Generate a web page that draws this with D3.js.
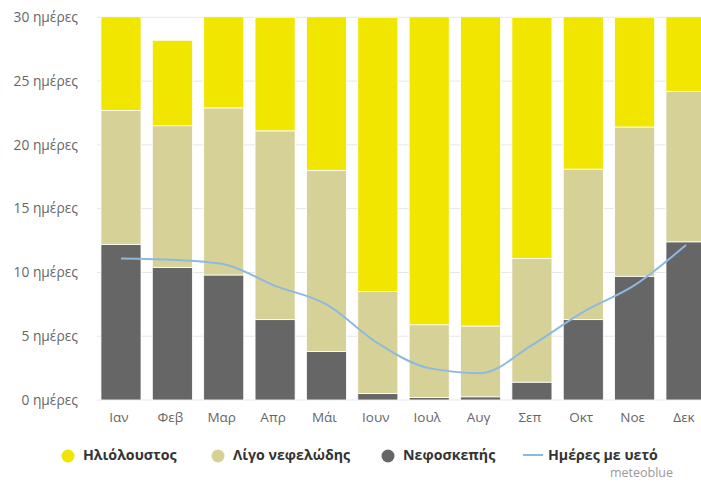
<!DOCTYPE html>
<html>
<head>
<meta charset="utf-8">
<script src="https://cdn.jsdelivr.net/npm/d3@7/dist/d3.min.js"></script>
<style>
  html, body { margin: 0; padding: 0; background: #fff; }
  svg { display: block; font-family: "Open Sans", "DejaVu Sans", sans-serif; }
</style>
</head>
<body>
<svg id="chart" width="701" height="482"></svg>
<script>
const months = ["Ιαν","Φεβ","Μαρ","Απρ","Μάι","Ιουν","Ιουλ","Αυγ","Σεπ","Οκτ","Νοε","Δεκ"];
const sunny    = [8.3, 6.7, 8.1, 8.9, 13.0, 21.5, 25.1, 25.2, 18.9, 12.9, 8.6, 6.8];
const partly   = [10.5, 11.1, 13.1, 14.8, 14.2, 8.0, 5.7, 5.55, 9.7, 11.8, 11.7, 11.8];
const overcast = [12.2, 10.4, 9.8, 6.3, 3.8, 0.5, 0.2, 0.25, 1.4, 6.3, 9.7, 12.4];
const rainDays = [11.1, 11.0, 10.65, 8.95, 7.5, 4.45, 2.5, 2.1, 4.3, 6.9, 9.0, 12.15];
const yTicks = [0, 5, 10, 15, 20, 25, 30];
const tickSuffix = " ημέρες";
const legendLabels = ["Ηλιόλουστος", "Λίγο νεφελώδης", "Νεφοσκεπής", "Ημέρες με υετό"];
const credit = "meteoblue";

const colors = { sunny: "#f1e600", partly: "#d6d297", overcast: "#666666", rain: "#8db9df" };

const svg = d3.select("#chart");
const x = d3.scaleBand().domain(months).range([95.3, 711.7]).paddingInner(0.22).paddingOuter(0.11);
const y = d3.scaleLinear().domain([0, 30]).range([400, 17.3]);

// grid
svg.append("g").selectAll("line").data(yTicks).join("line")
  .attr("x1", 97).attr("x2", 701)
  .attr("y1", d => y(d)).attr("y2", d => y(d))
  .attr("stroke", "#e6e6e6").attr("stroke-width", 1);

// y labels
svg.append("g").selectAll("text").data(yTicks).join("text")
  .attr("x", 78).attr("y", d => y(d)).attr("dy", "0.35em")
  .attr("text-anchor", "end").attr("fill", "#666").attr("font-size", 13.8)
  .text(d => d + tickSuffix);

// clip
svg.append("defs").append("clipPath").attr("id", "plotclip")
  .append("rect").attr("x", 90).attr("y", y(30)).attr("width", 640).attr("height", y(0) - y(30) + 1);

const table = months.map((m, i) => ({ month: m, overcast: overcast[i], partly: partly[i], sunny: sunny[i] }));
const keys = ["overcast", "partly", "sunny"];
const stacked = d3.stack().keys(keys)(table);

const bars = svg.append("g").attr("clip-path", "url(#plotclip)");
bars.selectAll("g").data(stacked).join("g")
  .attr("fill", d => colors[d.key])
  .selectAll("rect").data(d => d).join("rect")
  .attr("x", d => x(d.data.month))
  .attr("width", x.bandwidth())
  .attr("y", d => y(d[1]))
  .attr("height", d => y(d[0]) - y(d[1]))
  .attr("stroke", "#fff").attr("stroke-width", 0.8);

// rain line
const line = d3.line()
  .x((d, i) => x(months[i]) + x.bandwidth() / 2)
  .y(d => y(d))
  .curve(d3.curveMonotoneX);
svg.append("path").datum(rainDays)
  .attr("d", line).attr("fill", "none")
  .attr("stroke", colors.rain).attr("stroke-width", 2);

// x labels
svg.append("g").selectAll("text").data(months).join("text")
  .attr("x", d => x(d) + x.bandwidth() / 2 - 2).attr("y", 422)
  .attr("text-anchor", "middle").attr("fill", "#666").attr("font-size", 13.5)
  .text(d => d);

// legend
const lg = svg.append("g").attr("font-size", 14.2).attr("font-weight", "bold").attr("fill", "#333");
const legendX = [68, 218, 388, 523];
const legendColors = [colors.sunny, colors.partly, colors.overcast, colors.rain];
const ly = 455;
legendLabels.forEach((lab, i) => {
  const g = lg.append("g");
  if (i < 3) {
    g.append("circle").attr("cx", legendX[i]).attr("cy", ly + 1).attr("r", 6.5).attr("fill", legendColors[i]);
    g.append("text").attr("x", legendX[i] + 15).attr("y", ly).attr("dy", "0.35em").text(lab);
  } else {
    g.append("line").attr("x1", legendX[i]).attr("x2", legendX[i] + 20).attr("y1", ly).attr("y2", ly)
      .attr("stroke", legendColors[i]).attr("stroke-width", 2);
    g.append("text").attr("x", legendX[i] + 25).attr("y", ly).attr("dy", "0.35em").text(lab);
  }
});

svg.append("text").attr("x", 673).attr("y", 473).attr("dy", "0.35em")
  .attr("text-anchor", "end").attr("fill", "#999").attr("font-size", 12.5).text(credit);
</script>
</body>
</html>
